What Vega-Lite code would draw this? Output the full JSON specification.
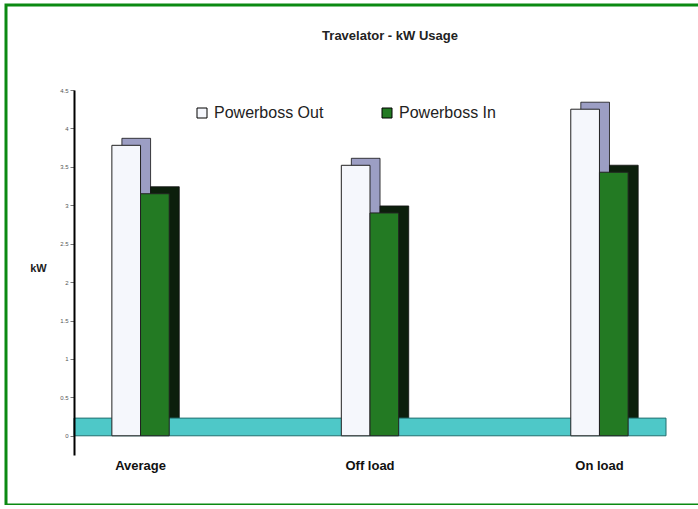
{
  "$schema": "https://vega.github.io/schema/vega-lite/v6.json",
  "width": 700,
  "height": 500,
  "padding": {"left": 6, "top": 5, "right": 0, "bottom": 0},
  "autosize": {"type": "pad"},
  "background": "white",
  "config": {
    "view": {"stroke": "#0b8a12", "strokeWidth": 3},
    "font": "Liberation Sans"
  },
  "title": {
    "text": "Travelator - kW Usage",
    "offset": -38,
    "dx": 34,
    "fontSize": 13,
    "font": "Liberation Sans",
    "fontWeight": "bold",
    "color": "#222222"
  },
  "datasets": {
    "kw": [
      {"period": "Average", "series": "Powerboss Out", "kW": 3.78},
      {"period": "Average", "series": "Powerboss In", "kW": 3.15},
      {"period": "Off load", "series": "Powerboss Out", "kW": 3.52},
      {"period": "Off load", "series": "Powerboss In", "kW": 2.9},
      {"period": "On load", "series": "Powerboss Out", "kW": 4.25},
      {"period": "On load", "series": "Powerboss In", "kW": 3.43}
    ]
  },
  "layer": [
    {
      "data": {"name": "kw"},
      "mark": {"type": "bar", "yOffset": -7, "stroke": "#111111", "strokeWidth": 0.8},
      "encoding": {
        "x": {
          "field": "period", "type": "nominal", "sort": ["Average", "Off load", "On load"],
          "scale": {"range": [68, 660], "paddingInner": 0.5, "paddingOuter": 0.04},
          "axis": null
        },
        "xOffset": {
          "field": "series", "type": "nominal", "sort": ["Powerboss Out", "Powerboss In"],
          "scale": {"paddingOuter": 1, "paddingInner": 0, "align": 0.675}
        },
        "y": {
          "field": "kW",
          "type": "quantitative",
          "scale": {"domain": [-0.25, 4.5], "range": [450, 85], "nice": false, "zero": false},
          "axis": {
            "values": [0, 0.5, 1, 1.5, 2, 2.5, 3, 3.5, 4, 4.5],
            "format": ".1~f",
            "offset": -68,
            "grid": false,
            "zindex": 1,
            "labelFontSize": 6,
            "labelColor": "#555555",
            "tickSize": 4,
            "tickColor": "#777777",
            "domainColor": "#000000",
            "domainWidth": 2,
            "title": "kW",
            "titleAngle": 0,
            "titleFontSize": 11,
            "titleFontWeight": "bold",
            "titleColor": "#222222",
            "titleAlign": "center",
            "titleBaseline": "middle",
            "titleX": -36,
            "titleY": 263
          }
        },
        "color": {
          "field": "series", "type": "nominal",
          "scale": {"domain": ["Powerboss Out", "Powerboss In"], "range": ["#9c9ec4", "#0c1f0c"]},
          "legend": null
        }
      }
    },
    {
      "data": {"values": [{}]},
      "mark": {"type": "rect", "fill": "#4ec8c8", "stroke": "#226f6f", "strokeWidth": 1},
      "encoding": {
        "x": {"datum": 0, "type": "quantitative", "scale": {"domain": [0, 1], "range": [68, 660]}, "axis": null},
        "x2": {"datum": 1},
        "y": {"datum": 0, "type": "quantitative"},
        "y2": {"datum": 0.23}
      }
    },
    {
      "data": {"name": "kw"},
      "mark": {"type": "bar", "stroke": "#222222", "strokeWidth": 1},
      "encoding": {
        "x": {
          "field": "period", "type": "nominal", "sort": ["Average", "Off load", "On load"],
          "scale": {"range": [68, 660], "paddingInner": 0.5, "paddingOuter": 0.04},
          "axis": {
            "orient": "bottom",
            "offset": -50,
            "domain": false,
            "ticks": false,
            "labelPadding": 4,
            "labelAngle": 0,
            "labelFontSize": 13,
            "labelFontWeight": "bold",
            "labelColor": "#111111",
            "title": null
          }
        },
        "xOffset": {
          "field": "series", "type": "nominal", "sort": ["Powerboss Out", "Powerboss In"],
          "scale": {"paddingOuter": 1, "paddingInner": 0}
        },
        "y": {"field": "kW", "type": "quantitative"},
        "color": {
          "field": "series", "type": "nominal",
          "scale": {"domain": ["Powerboss Out", "Powerboss In"], "range": ["#f5f7fc", "#237a23"]},
          "legend": {
            "orient": "none",
            "legendX": 188,
            "legendY": 100,
            "direction": "horizontal",
            "title": null,
            "symbolType": "square",
            "symbolSize": 100,
            "symbolStrokeColor": "#000000",
            "symbolStrokeWidth": 1,
            "labelFontSize": 16,
            "labelFont": "Liberation Sans",
            "labelColor": "#222222",
            "columnPadding": 55
          }
        }
      }
    }
  ],
  "resolve": {"scale": {"x": "independent", "xOffset": "independent", "color": "independent"}}
}
